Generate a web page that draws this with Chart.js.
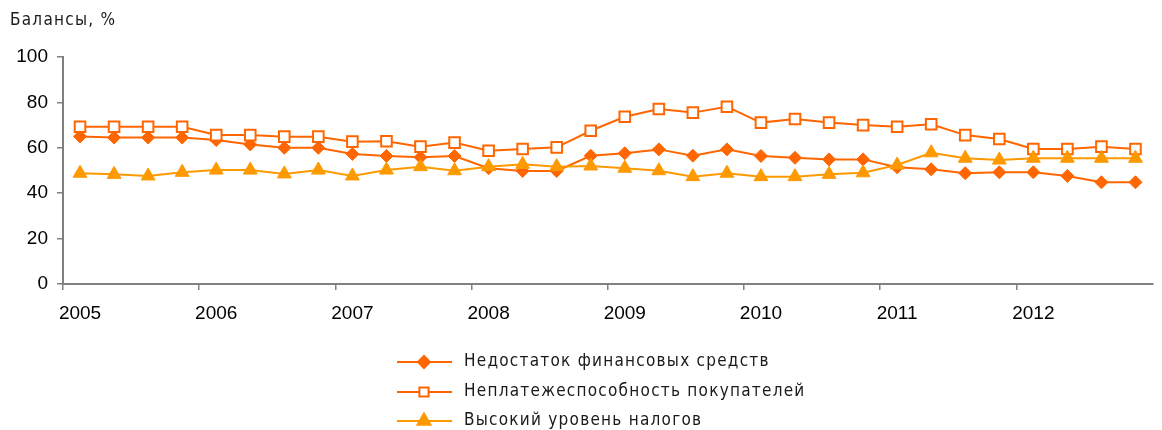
<!DOCTYPE html>
<html>
<head>
<meta charset="utf-8">
<script src="https://cdn.jsdelivr.net/npm/chart.js@4.4.1/dist/chart.umd.min.js"></script>
<style>
html,body{margin:0;padding:0;background:#fff;}
#wrap{position:relative;width:1162px;height:430px;}
</style>
</head>
<body>
<div id="wrap"><canvas id="c" width="1162" height="430"></canvas></div>
<script>
const years = ['2005','2006','2007','2008','2009','2010','2011','2012'];
const periods = [
 '2005 I','2005 II','2005 III','2005 IV','2006 I','2006 II','2006 III','2006 IV',
 '2007 I','2007 II','2007 III','2007 IV','2008 I','2008 II','2008 III','2008 IV',
 '2009 I','2009 II','2009 III','2009 IV','2010 I','2010 II','2010 III','2010 IV',
 '2011 I','2011 II','2011 III','2011 IV','2012 I','2012 II','2012 III','2012 IV'
];
const seriesNames = ['Недостаток финансовых средств','Неплатежеспособность покупателей','Высокий уровень налогов'];
const lackOfFunds = [65,64.5,64.5,64.5,63.4,61.5,60,60,57.3,56.4,55.8,56.4,51,49.8,49.8,56.5,57.6,59.3,56.5,59.3,56.4,55.6,54.9,54.9,51.4,50.5,48.8,49.2,49.2,47.6,44.8,44.8];
const insolvency = [69.3,69.3,69.3,69.3,65.6,65.6,64.9,64.9,62.7,62.9,60.5,62.3,58.7,59.5,60.2,67.5,73.7,77.1,75.5,78.1,71.1,72.7,71.1,70,69.3,70.4,65.6,63.9,59.5,59.5,60.5,59.5];
const highTaxes = [48.8,48.3,47.6,49.2,50.2,50.2,48.5,50.2,47.6,50.2,51.7,49.9,51.7,52.7,51.7,52,51,49.9,47.3,48.8,47.3,47.3,48.3,49.0,52.4,57.8,55.4,54.6,55.4,55.4,55.4,55.4];
const yTicks = [0,20,40,60,80,100];
const titleText = 'Балансы, %';

const C1 = '#FF6600', C2 = '#FF6600', C3 = '#FF9900';
const axisColor = '#808080';
const tickFont = '"Liberation Sans", Arial, sans-serif';
const textFont = '"DejaVu Sans Condensed", "DejaVu Sans", sans-serif';

const textPlugin = {
  id: 'textPlugin',
  afterDraw(chart) {
    const ctx = chart.ctx;
    ctx.save();
    ctx.fillStyle = '#1a1a1a';
    ctx.font = '17px ' + textFont;
    ctx.letterSpacing = '1.25px';
    ctx.textBaseline = 'middle';
    ctx.textAlign = 'left';
    ctx.fillText(titleText, 10, 21);
    const rows = [362, 392, 421];
    chart.data.datasets.forEach((ds, i) => {
      const y = rows[i];
      ctx.strokeStyle = ds.borderColor;
      ctx.lineWidth = 2;
      ctx.beginPath(); ctx.moveTo(397, y); ctx.lineTo(452, y); ctx.stroke();
      ctx.fillStyle = ds.pointBackgroundColor;
      ctx.strokeStyle = ds.pointBorderColor;
      Chart.helpers.drawPoint(ctx, {pointStyle: ds.pointStyle, radius: ds.legendRadius, rotation: 0, borderWidth: ds.pointBorderWidth}, 424, y);
      ctx.fillStyle = '#1a1a1a';
      ctx.fillText(ds.label, 464, y);
    });
    ctx.restore();
  }
};

new Chart(document.getElementById('c'), {
  type: 'line',
  data: {
    labels: periods,
    datasets: [
      {label: seriesNames[0], data: lackOfFunds, borderColor: C1, backgroundColor: C1, borderWidth: 2,
       pointStyle: 'rectRot', pointRadius: 6.5, pointBackgroundColor: C1, pointBorderColor: C1, pointBorderWidth: 1, legendRadius: 6, order: 3},
      {label: seriesNames[1], data: insolvency, borderColor: C2, backgroundColor: '#fff', borderWidth: 2,
       pointStyle: 'rect', pointRadius: 7.5, pointBackgroundColor: '#fff', pointBorderColor: C2, pointBorderWidth: 2, legendRadius: 6.5, order: 2},
      {label: seriesNames[2], data: highTaxes, borderColor: C3, backgroundColor: C3, borderWidth: 2,
       pointStyle: 'triangle', pointRadius: 8, pointBackgroundColor: C3, pointBorderColor: C3, pointBorderWidth: 1, legendRadius: 7.5, order: 1}
    ]
  },
  options: {
    responsive: false,
    animation: false,
    devicePixelRatio: 1,
    layout: {padding: {top: 57, left: 0, right: 0, bottom: 106}},
    plugins: {legend: {display: false}, title: {display: false}, tooltip: {enabled: false}},
    elements: {line: {tension: 0}},
    scales: {
      x: {
        type: 'category',
        offset: true,
        border: {display: true, color: axisColor, width: 2},
        grid: {
          offset: true, drawOnChartArea: false, drawTicks: true, tickLength: 6, lineWidth: 1.5,
          color: (ctx) => (ctx.index % 4 === 0 ? axisColor : 'rgba(0,0,0,0)')
        },
        ticks: {
          autoSkip: false, maxRotation: 0, minRotation: 0, padding: 12, color: '#000',
          font: {family: tickFont, size: 19},
          callback: (v, i) => (i % 4 === 0 ? years[i / 4] : '')
        },
        afterFit: (s) => { s.height = 40; }
      },
      y: {
        min: 0, max: 100,
        afterBuildTicks: (s) => { s.ticks = yTicks.map(v => ({value: v})); },
        border: {display: true, color: axisColor, width: 2},
        grid: {drawOnChartArea: false, drawTicks: true, tickLength: 6, color: axisColor, lineWidth: 1.5},
        ticks: {padding: 9, color: '#000', font: {family: tickFont, size: 19}},
        afterFit: (s) => { s.width = 63; }
      }
    }
  },
  plugins: [textPlugin]
});
</script>
</body>
</html>
